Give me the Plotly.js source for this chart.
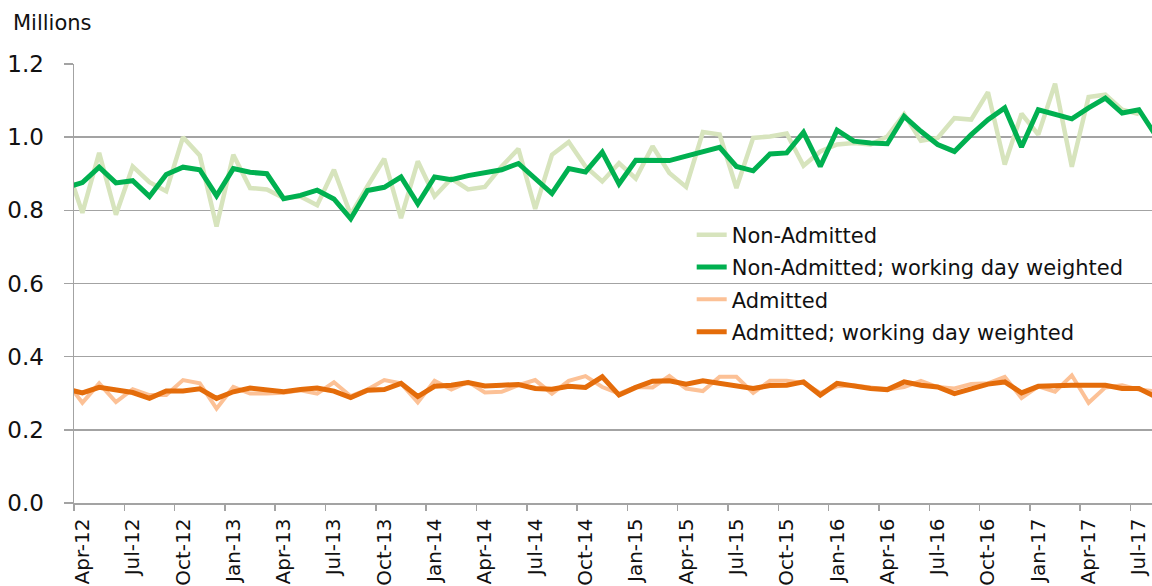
<!DOCTYPE html>
<html>
<head>
<meta charset="utf-8">
<script src="https://cdn.plot.ly/plotly-3.0.1.min.js"></script>
<style>html,body{margin:0;padding:0;background:#fff;}#chart{width:1152px;height:586px;}</style>
</head>
<body>
<div id="chart"></div>
<script>
// Months (Mar-12 and Aug-17 sit just outside the visible window and are clipped)
const months = ["Mar-12","Apr-12","May-12","Jun-12","Jul-12","Aug-12","Sep-12","Oct-12","Nov-12","Dec-12",
"Jan-13","Feb-13","Mar-13","Apr-13","May-13","Jun-13","Jul-13","Aug-13","Sep-13","Oct-13","Nov-13","Dec-13",
"Jan-14","Feb-14","Mar-14","Apr-14","May-14","Jun-14","Jul-14","Aug-14","Sep-14","Oct-14","Nov-14","Dec-14",
"Jan-15","Feb-15","Mar-15","Apr-15","May-15","Jun-15","Jul-15","Aug-15","Sep-15","Oct-15","Nov-15","Dec-15",
"Jan-16","Feb-16","Mar-16","Apr-16","May-16","Jun-16","Jul-16","Aug-16","Sep-16","Oct-16","Nov-16","Dec-16",
"Jan-17","Feb-17","Mar-17","Apr-17","May-17","Jun-17","Jul-17","Aug-17"];

const nonAdmitted = [0.93,0.793,0.957,0.788,0.920,0.877,0.852,1.000,0.950,0.756,
0.952,0.861,0.857,0.834,0.838,0.814,0.911,0.788,0.866,0.941,0.779,0.934,
0.838,0.887,0.857,0.864,0.920,0.968,0.804,0.952,0.987,0.920,0.879,0.929,
0.887,0.975,0.902,0.864,1.014,1.007,0.861,0.998,1.002,1.010,0.922,0.961,
0.980,0.984,0.980,1.002,1.063,0.990,0.998,1.052,1.048,1.123,0.925,1.064,
1.007,1.146,0.919,1.110,1.116,1.075,1.063];

const nonAdmittedWdw = [0.862,0.876,0.918,0.875,0.881,0.838,0.898,0.918,0.911,0.840,
0.914,0.904,0.900,0.832,0.841,0.855,0.831,0.777,0.854,0.863,0.891,0.818,
0.891,0.884,0.895,0.902,0.911,0.928,0.887,0.846,0.914,0.905,0.959,0.872,
0.937,0.935,0.936,0.948,0.959,0.972,0.920,0.908,0.954,0.957,1.013,0.920,
1.019,0.989,0.984,0.982,1.057,1.016,0.980,0.961,1.007,1.048,1.080,0.973,
1.075,1.061,1.050,1.080,1.107,1.066,1.075,1.005];

const admitted = [0.334,0.274,0.327,0.276,0.311,0.295,0.295,0.336,0.327,0.258,
0.317,0.299,0.299,0.301,0.308,0.299,0.330,0.292,0.310,0.336,0.327,0.275,
0.334,0.310,0.331,0.302,0.304,0.322,0.336,0.299,0.334,0.347,0.317,0.299,
0.317,0.316,0.347,0.313,0.306,0.345,0.345,0.301,0.334,0.334,0.328,0.301,
0.319,0.322,0.316,0.310,0.317,0.334,0.317,0.313,0.325,0.327,0.345,0.287,
0.319,0.304,0.349,0.274,0.316,0.322,0.310,0.305];

const admittedWdw = [0.312,0.301,0.316,0.308,0.302,0.286,0.306,0.306,0.312,0.286,
0.304,0.314,0.310,0.304,0.310,0.314,0.306,0.288,0.308,0.310,0.327,0.291,
0.319,0.322,0.329,0.320,0.322,0.324,0.313,0.311,0.319,0.316,0.345,0.295,
0.316,0.333,0.334,0.325,0.334,0.327,0.317,0.313,0.321,0.322,0.331,0.295,
0.327,0.319,0.313,0.310,0.331,0.322,0.317,0.299,0.313,0.325,0.331,0.301,
0.319,0.322,0.322,0.322,0.322,0.313,0.313,0.290];

const seriesNames = ["Non-Admitted","Non-Admitted; working day weighted","Admitted","Admitted; working day weighted"];
const seriesColors = ["#d7e4bd","#00b050","#fcc196","#e46c0a"];
const seriesWidths = [4.5,5,4,5];
const seriesValues = [nonAdmitted, nonAdmittedWdw, admitted, admittedWdw];

const xIdx = months.map((m,i)=>i);
// labels every third month starting Apr-12
const labelIdx = xIdx.filter(i => i >= 1 && (i-1) % 3 === 0 && i <= 64);
const labelText = labelIdx.map(i => months[i]);
const boundaryVals = labelIdx.map(i => i - 0.5);

const FONT = "DejaVu Sans, Liberation Sans, Arial, sans-serif";
const GRID = "#a3a3a3";

const traces = seriesValues.map((vals, k) => ({
  type: "scatter", mode: "lines",
  x: xIdx, y: vals, name: seriesNames[k],
  legendgroup: "g" + k,
  line: {color: seriesColors[k], width: seriesWidths[k], shape: "linear"},
  hoverinfo: "skip"
}));
traces.push({type:"scatter", mode:"lines", x:[], y:[], xaxis:"x2", yaxis:"y", showlegend:false, hoverinfo:"skip"});

const xRange = [0.5, 0.5 + 1078/16.77];

const layout = {
  width: 1152, height: 586,
  margin: {l: 74, r: 0, t: 64, b: 83, pad: 0},
  paper_bgcolor: "#ffffff", plot_bgcolor: "#ffffff",
  font: {family: FONT, color: "#111111"},
  showlegend: true,
  legend: {
    x: 0.573, y: 0.657, xanchor: "left", yanchor: "top",
    bgcolor: "rgba(0,0,0,0)", borderwidth: 0,
    font: {family: FONT, size: 21, color: "#111111"},
    traceorder: "grouped", tracegroupgap: 2,
    itemwidth: 30
  },
  xaxis: {
    type: "linear", range: xRange,
    tickmode: "array", tickvals: labelIdx, ticktext: labelText,
    tickangle: -90, ticks: "", ticklabelstandoff: 6,
    tickfont: {family: FONT, size: 20, color: "#111111"},
    showgrid: false, zeroline: false,
    showline: true, linecolor: GRID, linewidth: 1.5
  },
  xaxis2: {
    type: "linear", range: xRange, overlaying: "x", anchor: "y", side: "bottom",
    tickmode: "array", tickvals: boundaryVals,
    ticks: "outside", ticklen: 7, tickwidth: 1.5, tickcolor: GRID,
    showticklabels: false, showgrid: false, zeroline: false, showline: false
  },
  yaxis: {
    range: [0, 1.2], tickmode: "linear", tick0: 0, dtick: 0.2, tickformat: ".1f",
    ticks: "outside", ticklen: 9, tickwidth: 1.5, tickcolor: GRID,
    ticklabelstandoff: 15,
    tickfont: {family: FONT, size: 23, color: "#111111"},
    showgrid: true, gridcolor: GRID, gridwidth: 1.5,
    zeroline: false, showline: true, linecolor: GRID, linewidth: 1.5
  },
  annotations: [{
    text: "Millions", xref: "paper", yref: "paper",
    x: (11-74)/1078, y: (503-23)/439, xanchor: "left", yanchor: "middle",
    showarrow: false, font: {family: FONT, size: 21, color: "#111111"}
  }]
};

Plotly.newPlot("chart", traces, layout, {displayModeBar: false, staticPlot: true});
</script>
</body>
</html>
